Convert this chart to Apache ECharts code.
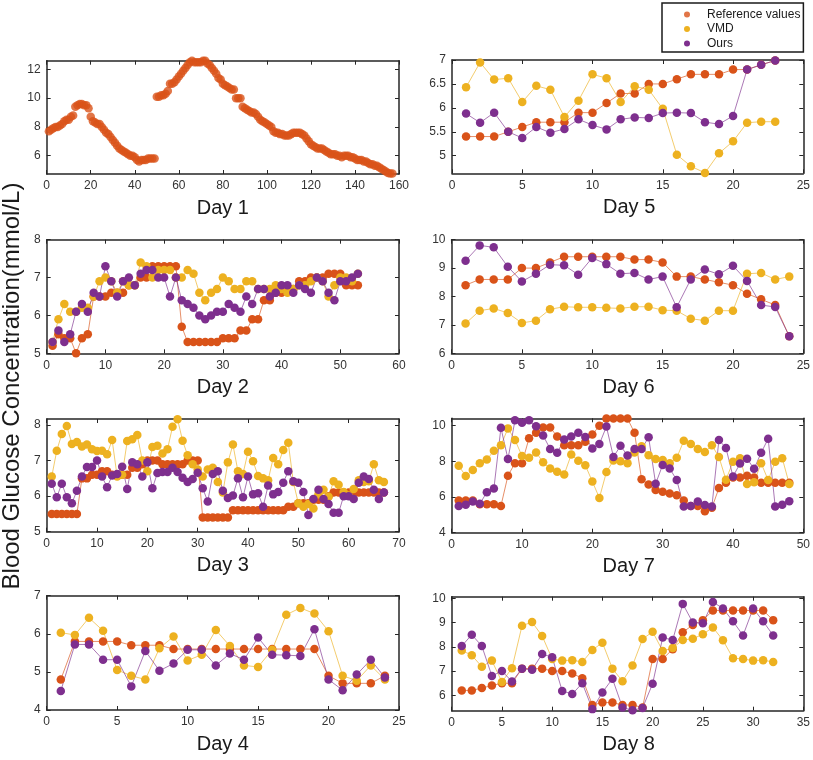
<!DOCTYPE html>
<html>
<head>
<meta charset="utf-8">
<script src="https://cdn.jsdelivr.net/npm/echarts@6/dist/echarts.min.js"></script>
<style>
html,body{margin:0;padding:0;background:#fff;}
#chart{width:813px;height:760px;}
</style>
</head>
<body>
<div id="chart"></div>
<script>
// ---------------- DATA ----------------
const seriesNames = ['Reference values', 'VMD', 'Ours'];
const dayLabels = ['Day 1','Day 2','Day 3','Day 4','Day 5','Day 6','Day 7','Day 8'];
const yAxisTitle = 'Blood Glucose Concentration(mmol/L)';

const day1Ref = [7.7,7.8,7.9,8.0,8.0, 8.1,8.2,8.4,8.5,8.5, 8.7,8.8,9.4,9.5,9.6, 9.6,9.5,9.5,9.3,8.7,
  8.4,8.3,8.2,8.2,8.0, 7.8,7.6,7.5,7.3,7.1, 6.9,6.7,6.5,6.4,6.3, 6.2,6.1,6.0,6.0,5.9,
  5.7,5.6,5.7,5.7,5.7, 5.8,5.8,5.8,5.8,
  10.1,10.1,10.2,10.2,10.3, 10.5,11.0,11.0,11.1,11.3, 11.5,11.7,11.9,12.1,12.3, 12.5,12.6,12.5,12.5,12.5,
  12.5,12.6,12.6,12.4,12.3, 12.1,11.9,11.7,11.4,11.3, 11.0,10.9,10.8,10.7,10.6, 10.6,10.0,10.0,10.0,9.4,
  9.3,9.2,9.1,9.0,9.0, 8.9,8.7,8.5,8.4,8.3, 8.2,8.1,8.0,7.7,7.6, 7.6,7.5,7.5,7.4,7.4,
  7.4,7.5,7.6,7.6,7.6, 7.6,7.5,7.4,7.2,7.0, 6.8,6.7,6.6,6.5,6.5, 6.5,6.4,6.3,6.2,6.1,
  6.1,6.1,6.0,6.0,5.9, 6.0,6.0,6.0,5.9,5.9, 5.8,5.7,5.7,5.7,5.6, 5.6,5.5,5.4,5.4,5.3,
  5.3,5.2,5.1,5.0,4.9, 4.8,4.76,4.76];

const day2Ref = [5.2,5.5,5.4,5.4,5.0,5.4,5.5,6.5,6.5,6.5, 6.6,6.6,6.6,6.8,6.8,7.0,7.0,7.3,7.3,7.3,
  7.3,7.3,5.7,5.3,5.3,5.3,5.3,5.3,5.3,5.4, 5.4,5.4,5.6,5.6,5.9,5.9,6.4,6.4,6.6,6.6,
  6.7,6.7,6.9,6.9,7.0,7.0,7.0,7.1,7.1,7.1, 6.8,6.8,6.8];
const day2Vmd = [5.3,5.9,6.3,6.1,6.1,6.2,6.2,6.5,6.9,7.0, 6.9,6.6,6.9,6.8,6.8,7.4,7.3,7.0,7.2,7.2,
  7.2,7.0,7.0,7.2,7.1,6.6,6.4,6.6,6.7,7.0, 6.9,6.7,6.7,6.9,6.9,6.7,6.7,6.7,6.8,6.7,
  6.6,6.7,6.8,6.8,6.9,7.0,6.9,6.5,6.8,7.0, 7.0,6.9,7.1];
const day2Ours = [5.3,5.6,5.3,5.5,6.1,6.3,6.1,6.6,6.5,7.3, 6.9,6.5,6.9,7.0,6.8,7.1,7.2,7.2,7.0,7.0,
  6.5,7.0,6.4,6.3,6.2,6.0,5.9,6.0,6.1,6.1, 6.3,6.2,6.1,6.5,6.3,6.7,6.7,6.5,6.6,6.8,
  6.8,6.6,6.8,6.7,6.6,7.0,6.9,6.6,6.4,6.9, 6.9,7.0,7.1];

const day3Ref = [5.5,5.5,5.5,5.5,5.5,5.5,6.5,6.5,6.6,6.6, 6.7,6.7,6.6,6.6,6.6,6.6,6.8,6.8,6.9,7.0,
  7.0,7.0,6.9,6.9,6.9,6.9,6.9,7.0,7.0,7.0, 5.4,5.4,5.4,5.4,5.4,5.4,5.6,5.6,5.6,5.6,
  5.6,5.6,5.6,5.6,5.6,5.6,5.6,5.7,5.7,5.8, 5.8,5.8,5.9,5.9,5.9,6.0,6.1,6.1,6.1,6.1,
  6.1,6.1,6.1,6.1,6.1,6.1,6.1];
const day3Vmd = [6.55,7.28,7.75,7.97,7.47,7.52,7.4,7.45,7.32,7.27, 7.28,7.18,7.58,6.55,6.6,7.55,7.6,7.72,7.0,6.7,
  7.38,7.42,7.2,7.32,7.95,8.16,7.56,7.15,6.9,6.75, 6.55,6.75,6.8,6.4,6.1,6.95,7.45,6.7,6.62,7.25,
  6.98,6.57,6.5,6.45,7.07,6.9,7.3,7.5,6.4,5.8, 5.7,5.78,5.65,6.05,6.18,5.98,6.42,6.32,6.12,6.02,
  6.2,6.45,6.4,6.42,6.9,6.45,6.4];
const day3Ours = [6.35,5.97,6.35,5.97,5.8,6.15,6.55,6.82,6.82,7.0, 6.55,6.25,6.58,6.62,6.83,6.2,6.95,6.9,6.55,6.95,
  6.22,6.65,6.68,6.68,6.8,6.68,6.52,6.4,6.48,6.66, 6.22,5.85,6.62,6.7,6.15,5.95,6.02,6.5,5.97,6.55,
  6.05,6.08,5.7,6.3,6.05,6.12,6.38,6.7,6.42,6.38, 6.12,5.47,5.92,6.18,5.92,5.78,5.53,5.53,6.0,6.0,
  5.92,6.38,6.55,6.48,6.18,5.92,6.1];

const day4Ref = [4.8,5.8,5.8,5.8,5.8,5.7,5.7,5.7,5.6,5.6,5.6,5.6,5.6,5.6,5.6,5.6,5.6,5.6,5.6,4.9,4.7,4.7,4.7,4.9];
const day4Vmd = [6.03,5.97,6.42,6.08,5.05,4.9,4.8,5.62,5.93,5.3,5.45,6.1,5.68,5.17,5.13,5.58,6.5,6.68,6.53,6.07,4.9,4.77,5.17,4.8];
const day4Ours = [4.5,5.72,5.72,5.32,5.32,4.62,5.55,5.03,5.22,5.58,5.58,5.17,5.48,5.32,5.9,5.45,5.44,5.42,6.12,4.8,4.52,4.93,5.32,4.85];

const day5Ref = [5.4,5.4,5.4,5.5,5.6,5.7,5.7,5.7,5.9,5.9,6.1,6.3,6.3,6.5,6.5,6.6,6.7,6.7,6.7,6.8,6.8,6.9,6.99];
const day5Vmd = [6.43,6.95,6.59,6.62,6.12,6.46,6.38,5.81,6.15,6.70,6.62,6.12,6.45,6.38,5.98,5.02,4.78,4.64,5.05,5.30,5.69,5.71,5.71];
const day5Ours = [5.88,5.69,5.90,5.50,5.37,5.60,5.48,5.56,5.76,5.64,5.55,5.76,5.80,5.79,5.89,5.90,5.89,5.70,5.66,5.83,6.80,6.90,6.99];

const day6Ref = [8.4,8.6,8.6,8.6,9.0,9.0,9.2,9.4,9.4,9.4,9.4,9.4,9.3,9.3,9.2,8.7,8.7,8.6,8.5,8.4,8.1,7.9,7.7,6.6];
const day6Vmd = [7.05,7.5,7.58,7.42,7.07,7.15,7.55,7.64,7.62,7.62,7.6,7.58,7.64,7.64,7.52,7.5,7.22,7.15,7.5,7.5,8.8,8.83,8.6,8.7];
const day6Ours = [9.26,9.8,9.73,9.05,8.53,8.8,9.12,9.1,8.77,9.36,9.14,8.8,8.83,8.6,8.7,7.62,8.6,8.95,8.78,9.08,8.55,7.7,7.63,6.6];

const day7Ref = [5.8,5.8,5.8,5.6,5.6,5.6,5.5,7.2,7.9,7.9, 9.3,9.6,9.9,9.9,9.4,8.9,8.9,8.9,9.1,9.5,
  10.0,10.4,10.4,10.4,10.4,9.6,7.0,6.7,6.4,6.3, 6.2,6.1,5.8,5.5,5.5,5.2,5.4,6.5,6.8,7.1,
  7.1,7.2,7.1,6.8,6.8,6.8,6.8,6.8];
const day7Vmd = [7.75,7.18,7.52,7.9,8.1,8.6,8.9,9.85,9.2,8.3, 8.2,8.5,7.95,7.6,7.42,7.27,8.38,8.03,7.78,6.87,
  5.95,7.4,8.05,8.0,7.9,8.5,8.85,8.35,8.13,8.07, 7.9,8.2,9.15,8.97,8.7,8.52,8.9,8.25,6.97,7.98,
  8.18,6.73,6.83,7.9,6.95,7.98,8.18,6.73];
const day7Ours = [5.5,5.57,5.75,5.62,6.27,6.48,9.88,8.13,10.3,10.17, 10.3,9.97,9.45,8.7,8.48,9.23,9.4,9.6,9.37,8.72,
  8.97,9.95,8.25,8.87,8.33,8.7,8.7,9.35,6.75,7.8, 7.6,6.95,5.47,5.5,5.75,5.55,5.47,9.2,8.75,7.15,
  7.88,8.15,7.58,8.48,9.27,5.47,5.57,5.77];

const day8Ref = [6.2,6.2,6.3,6.4,6.5,6.5,7.1,7.1,7.1,7.0, 7.0,6.9,6.7,5.6,5.7,5.7,5.6,5.6,5.5,7.5,
  7.5,7.9,8.6,8.9,9.1,9.5,9.5,9.5,9.5,9.5, 9.5,9.1];
const day8Vmd = [7.85,7.65,7.18,7.43,6.55,7.12,8.87,9.02,8.45,7.5, 7.43,7.45,7.37,7.87,8.17,7.1,6.58,7.23,8.32,8.62,
  7.83,7.95,8.28,8.33,8.52,8.8,8.27,7.53,7.5,7.43, 7.45,7.37];
const day8Ours = [8.03,8.5,8.03,6.8,7.0,6.57,7.1,7.05,7.7,7.57, 6.18,6.05,6.5,5.43,6.12,6.68,5.5,5.38,5.48,6.48,
  8.38,8.28,9.77,9.0,8.97,9.85,9.58,9.05,8.47,9.58, 9.05,8.47];

// tick labels
const yTicks1 = [6,8,10,12];
const yTicks2 = [5,6,7,8];
const yTicks3 = [5,6,7,8];
const yTicks4 = [4,5,6,7];
const yTicks5 = [5,5.5,6,6.5,7];
const yTicks6 = [6,7,8,9,10];
const yTicks7 = [4,6,8,10];
const yTicks8 = [6,7,8,9,10];

// ---------------- LAYOUT ----------------
const COLORS = ['#D95319', '#EDB120', '#7E2F8E'];
const FONT = '"Liberation Sans", Arial, Helvetica, sans-serif';
const AX = '#262626';

const panels = [
  {title:dayLabels[0], l:46.7, t:60.7, w:352.3, h:113.3, xMax:160, xInt:20, yMin:4.73, yMax:12.6, yTicks:yTicks1, data:[day1Ref], scatterOnly:true},
  {title:dayLabels[1], l:46.7, t:239.7, w:352.3, h:113.6, xMax:60, xInt:10, yMin:5, yMax:8, yTicks:yTicks2, data:[day2Ref, day2Vmd, day2Ours]},
  {title:dayLabels[2], l:46.7, t:419, w:352.3, h:112.7, xMax:70, xInt:10, yMin:5, yMax:8.17, yTicks:yTicks3, data:[day3Ref, day3Vmd, day3Ours]},
  {title:dayLabels[3], l:46.7, t:595.7, w:352.3, h:114.3, xMax:25, xInt:5, yMin:4, yMax:7, yTicks:yTicks4, data:[day4Ref, day4Vmd, day4Ours]},
  {title:dayLabels[4], l:452, t:60, w:354.3, h:113.3, xMax:25, xInt:5, yMin:4.632, yMax:7, yTicks:yTicks5, data:[day5Ref, day5Vmd, day5Ours]},
  {title:dayLabels[5], l:451.5, t:239.7, w:354.2, h:113.6, xMax:25, xInt:5, yMin:6, yMax:10, yTicks:yTicks6, data:[day6Ref, day6Vmd, day6Ours]},
  {title:dayLabels[6], l:451.7, t:418.3, w:354, h:114.4, xMax:50, xInt:10, yMin:4, yMax:10.415, yTicks:yTicks7, data:[day7Ref, day7Vmd, day7Ours]},
  {title:dayLabels[7], l:451.7, t:596.7, w:354, h:114, xMax:35, xInt:5, yMin:5.365, yMax:10.066, yTicks:yTicks8, data:[day8Ref, day8Vmd, day8Ours]}
];

const option = {
  backgroundColor: '#fff',
  animation: false,
  grid: [], xAxis: [], yAxis: [], series: [],
  legend: {
    orient: 'vertical', left: 662, top: 3,
    padding: [5.5, 3, 2.5, 22], itemGap: 2.5,
    itemWidth: 30, itemHeight: 6, icon: 'circle',
    borderColor: '#1a1a1a', borderWidth: 1.5, backgroundColor: '#fff',
    textStyle: {fontSize: 12, color: '#1a1a1a', fontFamily: FONT, lineHeight: 12},
    data: seriesNames, selectedMode: false
  },
  graphic: []
};

const axisLine = {show: true, onZero: false, lineStyle: {color: AX, width: 1.5}};
const axisTick = {show: true, inside: true, length: 4, lineStyle: {color: AX, width: 1}};
const labelStyle = {color: '#333', fontSize: 12, fontFamily: FONT};

panels.forEach((p, i) => {
  option.grid.push({left: p.l, top: p.t, width: p.w, height: p.h});
  option.xAxis.push({type: 'value', gridIndex: i, min: 0, max: p.xMax, interval: p.xInt, position: 'bottom',
    axisLine, axisTick, axisLabel: Object.assign({margin: 6, showMinLabel: true, showMaxLabel: true}, labelStyle),
    splitLine: {show: false}});
  option.xAxis.push({type: 'value', gridIndex: i, min: 0, max: p.xMax, interval: p.xInt, position: 'top',
    axisLine, axisTick, axisLabel: {show: false}, splitLine: {show: false}});
  option.yAxis.push({type: 'value', gridIndex: i, min: p.yMin, max: p.yMax, position: 'left',
    axisLine, axisTick: Object.assign({customValues: p.yTicks}, axisTick),
    axisLabel: Object.assign({margin: 6, customValues: p.yTicks}, labelStyle),
    splitLine: {show: false}});
  option.yAxis.push({type: 'value', gridIndex: i, min: p.yMin, max: p.yMax, position: 'right',
    axisLine, axisTick: Object.assign({customValues: p.yTicks}, axisTick),
    axisLabel: {show: false}, splitLine: {show: false}});

  p.data.forEach((arr, k) => {
    const pts = arr.map((v, j) => [j + 1, v]);
    if (p.scatterOnly) {
      option.series.push({type: 'scatter', name: seriesNames[k], xAxisIndex: 2*i, yAxisIndex: 2*i,
        data: pts, symbol: 'circle', symbolSize: 8.5, clip: true,
        itemStyle: {color: COLORS[k]}, emphasis: {disabled: true}, silent: true});
    } else {
      option.series.push({type: 'line', name: seriesNames[k], xAxisIndex: 2*i, yAxisIndex: 2*i,
        data: pts, symbol: 'circle', symbolSize: 8.5, showSymbol: true, clip: true,
        lineStyle: {color: COLORS[k], width: 1, opacity: 0.65},
        itemStyle: {color: COLORS[k]}, emphasis: {disabled: true}, silent: true});
    }
  });

  option.graphic.push({type: 'text', x: p.l + p.w/2, y: p.t + p.h + 34, silent: true,
    style: {text: p.title, font: '20px ' + FONT, fill: '#1a1a1a', align: 'center', verticalAlign: 'middle'}});
});

option.graphic.push({type: 'text', x: 12, y: 386, rotation: Math.PI/2, silent: true,
  style: {text: yAxisTitle, font: '24px ' + FONT, fill: '#1a1a1a', align: 'center', verticalAlign: 'middle'}});

const chart = echarts.init(document.getElementById('chart'), null, {renderer: 'canvas'});
chart.setOption(option);
</script>
</body>
</html>
